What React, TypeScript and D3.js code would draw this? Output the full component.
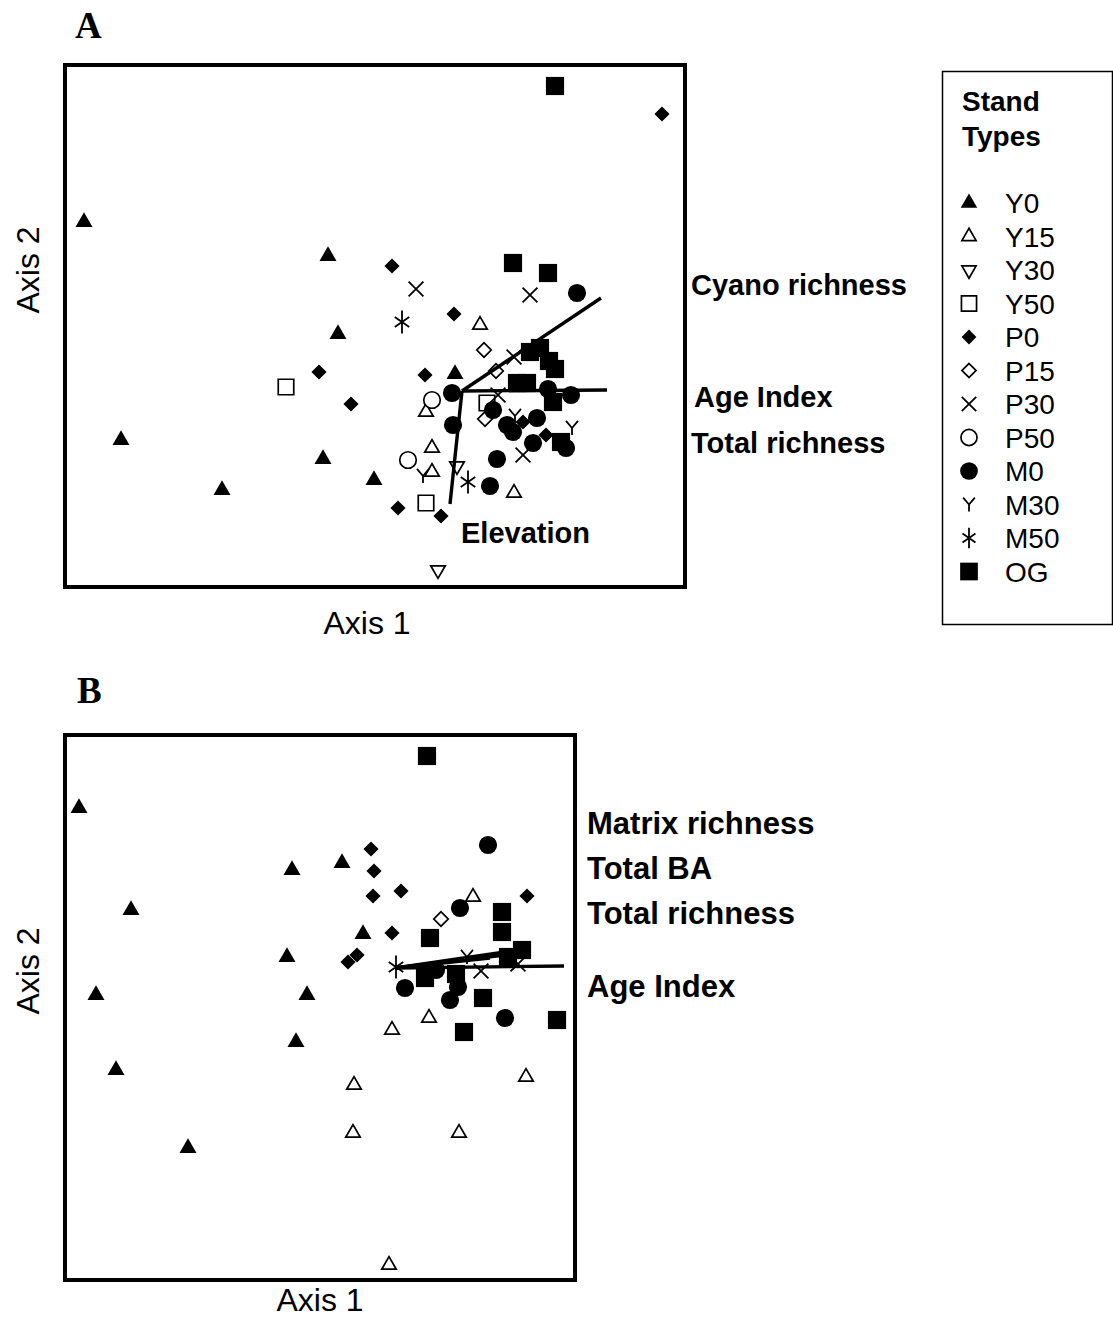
import React from 'react';
import * as d3 from 'd3';

// ordination scores (axis 1, axis 2), arbitrary units
const standTypes = ['Y0', 'Y15', 'Y30', 'Y50', 'P0', 'P15', 'P30', 'P50', 'M0', 'M30', 'M50', 'OG'];

// panel A
const aY0 = [[1.9, 36.5], [5.6, 14.7], [15.7, 9.7], [26.3, 33.1], [27.3, 25.3], [25.8, 12.8], [30.9, 10.7], [39.0, 21.3]];
const aY15 = [[36.1, 17.5], [36.7, 13.9], [36.7, 11.5], [44.9, 9.4], [41.5, 26.2]];
const aY30 = [[37.3, 1.7], [39.2, 12.1]];
const aY50 = [[22.1, 20.0], [36.1, 8.4], [42.2, 18.4]];
const aP0 = [[32.7, 32.1], [38.9, 27.3], [36.0, 21.2], [25.4, 21.5], [28.6, 18.3], [33.3, 7.9], [37.6, 7.1], [59.7, 47.3], [45.8, 16.5], [48.1, 15.2]];
const aP15 = [[41.9, 23.7], [43.1, 21.6], [42.0, 16.8]];
const aP30 = [[35.1, 29.8], [46.5, 29.2], [44.9, 23.0], [43.3, 19.2], [45.8, 13.2]];
const aP50 = [[36.7, 18.7], [34.3, 12.7]];
const aM0 = [[51.2, 29.4], [38.7, 19.4], [38.8, 16.2], [48.3, 19.8], [50.6, 19.2], [42.8, 17.7], [44.2, 16.2], [44.8, 15.5], [47.2, 16.9], [46.8, 14.4], [50.1, 13.9], [43.2, 12.8], [42.5, 10.1]];
const aM30 = [[50.7, 15.9], [45.0, 17.1], [35.8, 11.1]];
const aM50 = [[33.7, 26.5], [40.3, 10.5]];
const aOG = [[49.0, 50.1], [44.8, 32.4], [48.3, 31.4], [46.5, 23.5], [47.5, 23.9], [48.4, 22.6], [49.0, 21.8], [45.2, 20.4], [46.2, 20.4], [48.8, 18.5], [49.6, 14.5]];
const aVectorOrigin = [39.7, 19.6];
const aVectorNames = ['Cyano richness', 'Age Index', 'Elevation'];
const aVectorEnds = [[53.6, 28.9], [54.2, 19.7], [38.5, 8.3]];
const aLabels = ['Cyano richness', 'Age Index', 'Total richness', 'Elevation'];

// panel B
const bY0 = [[1.4, 47.2], [6.6, 37.0], [3.1, 28.5], [22.7, 41.0], [27.7, 41.7], [22.2, 32.3], [24.2, 28.5], [29.8, 34.6], [5.1, 21.0], [12.3, 13.2], [23.1, 23.8]];
const bY15 = [[32.7, 25.0], [36.4, 26.2], [40.8, 38.3], [28.9, 19.5], [28.8, 14.7], [39.4, 14.7], [46.1, 20.3], [32.4, 1.5]];
const bP0 = [[30.6, 43.1], [30.9, 40.9], [30.8, 38.4], [33.6, 38.9], [46.2, 38.4], [32.7, 34.7], [28.3, 31.8], [29.2, 32.5]];
const bP15 = [[37.6, 36.1]];
const bP30 = [[41.6, 30.9], [45.3, 31.6]];
const bM0 = [[42.3, 43.5], [39.5, 37.2], [34.0, 29.2], [39.3, 29.3], [38.5, 28.0], [44.0, 26.2], [37.1, 31.0]];
const bM30 = [[40.2, 32.3]];
const bM50 = [[33.1, 31.3]];
const bOG = [[36.2, 52.4], [43.7, 36.8], [43.7, 34.8], [36.5, 34.2], [45.7, 33.0], [44.3, 32.3], [36.0, 30.2], [39.1, 30.6], [41.8, 28.2], [39.9, 24.8], [49.2, 26.0]];
const bVectorOrigin = [33.0, 31.2];
const bVectorNames = ['Matrix richness', 'Total BA', 'Total richness', 'Age Index'];
const bVectorEnds = [[44.0, 32.5], [42.5, 32.2], [44.7, 32.9], [49.9, 31.4]];

const panelA = { Y0: aY0, Y15: aY15, Y30: aY30, Y50: aY50, P0: aP0, P15: aP15, P30: aP30, P50: aP50, M0: aM0, M30: aM30, M50: aM50, OG: aOG };
const panelB = { Y0: bY0, Y15: bY15, P0: bP0, P15: bP15, P30: bP30, M0: bM0, M30: bM30, M50: bM50, OG: bOG };

// custom line symbols
const crossSym = {
  draw(ctx, size) {
    const r = Math.sqrt(size) / 2;
    ctx.moveTo(-r, -r); ctx.lineTo(r, r);
    ctx.moveTo(r, -r); ctx.lineTo(-r, r);
  },
};
const ySym = {
  draw(ctx, size) {
    const r = Math.sqrt(size) / 2;
    ctx.moveTo(0, 0); ctx.lineTo(0, r);
    ctx.moveTo(0, 0); ctx.lineTo(-r * 0.85, -r);
    ctx.moveTo(0, 0); ctx.lineTo(r * 0.85, -r);
  },
};
const starSym = {
  draw(ctx, size) {
    const r = Math.sqrt(size) / 2;
    ctx.moveTo(0, -r * 1.6); ctx.lineTo(0, r * 1.6);
    ctx.moveTo(-r, -r * 0.7); ctx.lineTo(r, r * 0.7);
    ctx.moveTo(r, -r * 0.7); ctx.lineTo(-r, r * 0.7);
  },
};

const markers = {
  Y0: { type: d3.symbolTriangle, size: 125, mode: 'fill', rot: 0 },
  Y15: { type: d3.symbolTriangle, size: 92, mode: 'open', rot: 0 },
  Y30: { type: d3.symbolTriangle, size: 92, mode: 'open', rot: 180 },
  Y50: { type: d3.symbolSquare, size: 240, mode: 'open', rot: 0 },
  P0: { type: d3.symbolSquare, size: 115, mode: 'fill', rot: 45 },
  P15: { type: d3.symbolSquare, size: 105, mode: 'open', rot: 45 },
  P30: { type: crossSym, size: 220, mode: 'line', rot: 0 },
  P50: { type: d3.symbolCircle, size: 215, mode: 'open', rot: 0 },
  M0: { type: d3.symbolCircle, size: 260, mode: 'fill', rot: 0 },
  M30: { type: ySym, size: 200, mode: 'line', rot: 0 },
  M50: { type: starSym, size: 210, mode: 'line', rot: 0 },
  OG: { type: d3.symbolSquare, size: 330, mode: 'fill', rot: 0 },
};

const sans = '"Liberation Sans", Arial, sans-serif';
const serif = '"Liberation Serif", "Times New Roman", serif';

function Marker({ k, x, y, scale = 1 }) {
  const m = markers[k];
  const d = d3.symbol().type(m.type).size(m.size * scale)();
  return (
    <path
      d={d}
      transform={`translate(${x},${y}) rotate(${m.rot})`}
      fill={m.mode === 'fill' ? '#000' : m.mode === 'open' ? '#fff' : 'none'}
      stroke={m.mode === 'fill' ? 'none' : '#000'}
      strokeWidth={m.mode === 'line' ? 1.8 : 1.7}
    />
  );
}

function Panel({ data, x, y, origin, ends, frame }) {
  const marks = [];
  standTypes.forEach((k) => {
    (data[k] || []).forEach((p, i) => {
      marks.push(<Marker key={k + i} k={k} x={x(p[0])} y={y(p[1])} />);
    });
  });
  return (
    <g>
      <rect x={frame[0]} y={frame[1]} width={frame[2]} height={frame[3]} fill="none" stroke="#000" strokeWidth={4} />
      {marks}
      {ends.map((e, i) => (
        <line key={i} x1={x(origin[0])} y1={y(origin[1])} x2={x(e[0])} y2={y(e[1])} stroke="#000" strokeWidth={3.4} />
      ))}
    </g>
  );
}

export default function App() {
  // panel A scales
  const ax = d3.scaleLinear().domain([0, 62]).range([65, 685]);
  const ay = d3.scaleLinear().domain([0, 52.2]).range([587, 65]);
  // panel B scales
  const bx = d3.scaleLinear().domain([0, 51]).range([65, 575]);
  const by = d3.scaleLinear().domain([0, 54.5]).range([1280, 735]);

  const aLabelY = [295, 407, 453];
  const bLabelY = [834, 879, 924, 997];

  return (
    <svg width={1113} height={1331} style={{ position: 'absolute', left: 0, top: 0, background: '#fff' }}>
      <rect width={1113} height={1331} fill="#fff" />
      <text x={75} y={38} fontFamily={serif} fontWeight="bold" fontSize={37}>A</text>
      <text x={77} y={703} fontFamily={serif} fontWeight="bold" fontSize={37}>B</text>

      <Panel data={panelA} x={ax} y={ay} origin={aVectorOrigin} ends={aVectorEnds} frame={[65, 65, 620, 522]} />
      <Panel data={panelB} x={bx} y={by} origin={bVectorOrigin} ends={bVectorEnds} frame={[65, 735, 510, 545]} />

      {/* axis titles */}
      <text x={367} y={634} textAnchor="middle" fontFamily={sans} fontSize={32}>Axis 1</text>
      <text transform="translate(39,270) rotate(-90)" textAnchor="middle" fontFamily={sans} fontSize={32}>Axis 2</text>
      <text x={320} y={1311} textAnchor="middle" fontFamily={sans} fontSize={32}>Axis 1</text>
      <text transform="translate(39,971) rotate(-90)" textAnchor="middle" fontFamily={sans} fontSize={32}>Axis 2</text>

      {/* vector labels */}
      {aLabels.slice(0, 3).map((t, i) => (
        <text key={t} x={i === 1 ? 694 : 691} y={aLabelY[i]} fontFamily={sans} fontWeight="bold" fontSize={29}>{t}</text>
      ))}
      <text x={461} y={543} fontFamily={sans} fontWeight="bold" fontSize={29}>{aLabels[3]}</text>
      {bVectorNames.map((t, i) => (
        <text key={t} x={587} y={bLabelY[i]} fontFamily={sans} fontWeight="bold" fontSize={31}>{t}</text>
      ))}

      {/* legend */}
      <rect x={942.5} y={71.5} width={170} height={553} fill="none" stroke="#000" strokeWidth={1.5} />
      <text x={962} y={111} fontFamily={sans} fontWeight="bold" fontSize={28}>Stand</text>
      <text x={962} y={146} fontFamily={sans} fontWeight="bold" fontSize={28}>Types</text>
      {standTypes.map((k, i) => {
        const cy = 203 + i * 33.5;
        return (
          <g key={k}>
            <Marker k={k} x={969} y={cy} scale={k === 'M50' ? 0.8 : 0.95} />
            <text x={1005} y={cy + 10} fontFamily={sans} fontSize={28}>{k}</text>
          </g>
        );
      })}
    </svg>
  );
}
